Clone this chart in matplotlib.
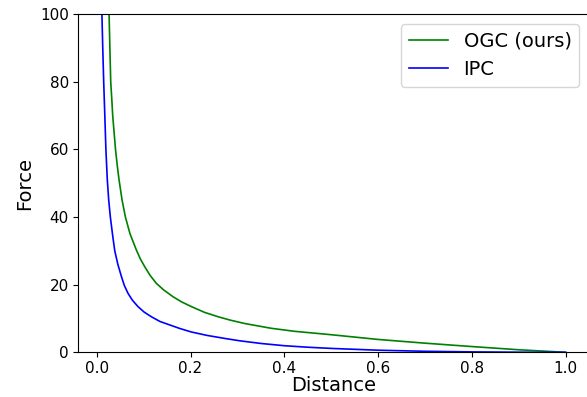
import matplotlib
matplotlib.use("Agg")
import matplotlib.pyplot as plt

# Contact force vs. distance for the two formulations
ogc_distance = [0.021, 0.0263, 0.028, 0.0298, 0.032, 0.034, 0.037, 0.040, 0.0435, 0.0475,
                0.054, 0.0611, 0.071, 0.0846, 0.093, 0.1023, 0.114, 0.127, 0.143, 0.163,
                0.181, 0.202, 0.23, 0.259, 0.285, 0.316, 0.372, 0.422, 0.5, 0.6,
                0.7, 0.8, 0.9, 1.0]
ogc_force = [125, 100, 90, 80, 75, 70, 65, 60, 55.5, 51,
             45, 40, 35, 30.2, 27.6, 25.3, 22.7, 20.4, 18.4, 16.4,
             14.9, 13.5, 11.8, 10.5, 9.5, 8.5, 7.1, 6.2, 5.2, 3.8,
             2.7, 1.7, 0.75, 0.0]

ipc_distance = [0.0085, 0.011, 0.0128, 0.0148, 0.0172, 0.0195, 0.0225, 0.0255, 0.029,
                0.0335, 0.0384, 0.045, 0.0526, 0.059, 0.0668, 0.076, 0.088, 0.101,
                0.1166, 0.135, 0.156, 0.178, 0.202, 0.235, 0.273, 0.305, 0.351, 0.4,
                0.45, 0.5, 0.6, 0.7, 0.8, 0.9, 1.0]
ipc_force = [125, 100, 90, 80, 70, 60, 51, 45, 40,
             35, 30, 26, 22.4, 19.7, 17.4, 15.4, 13.5, 11.9,
             10.5, 9.1, 8.07, 7.0, 6.0, 5.0, 4.1, 3.4, 2.6, 1.95,
             1.5, 1.15, 0.62, 0.3, 0.12, 0.03, 0.0]

x_ticks = [0.0, 0.2, 0.4, 0.6, 0.8, 1.0]
y_ticks = [0, 20, 40, 60, 80, 100]

fig = plt.figure(figsize=(5.87, 3.97), dpi=100)
ax = fig.add_axes([78 / 587, 1 - 352.3 / 397, (589 - 78) / 587, (352.3 - 14) / 397])

ax.plot(ogc_distance, ogc_force, color="green", linewidth=1.2, label="OGC (ours)")
ax.plot(ipc_distance, ipc_force, color="blue", linewidth=1.2, label="IPC")

ax.set_xlim(-0.04, 1.05)
ax.set_ylim(0, 100)
ax.set_xticks(x_ticks)
ax.set_yticks(y_ticks)
ax.tick_params(labelsize=11, pad=3)
ax.set_xlabel("Distance", fontsize=14, labelpad=0)
ax.set_ylabel("Force", fontsize=14, labelpad=4)
ax.legend(loc="upper right", fontsize=14)

fig.savefig("out.png", dpi=100)
